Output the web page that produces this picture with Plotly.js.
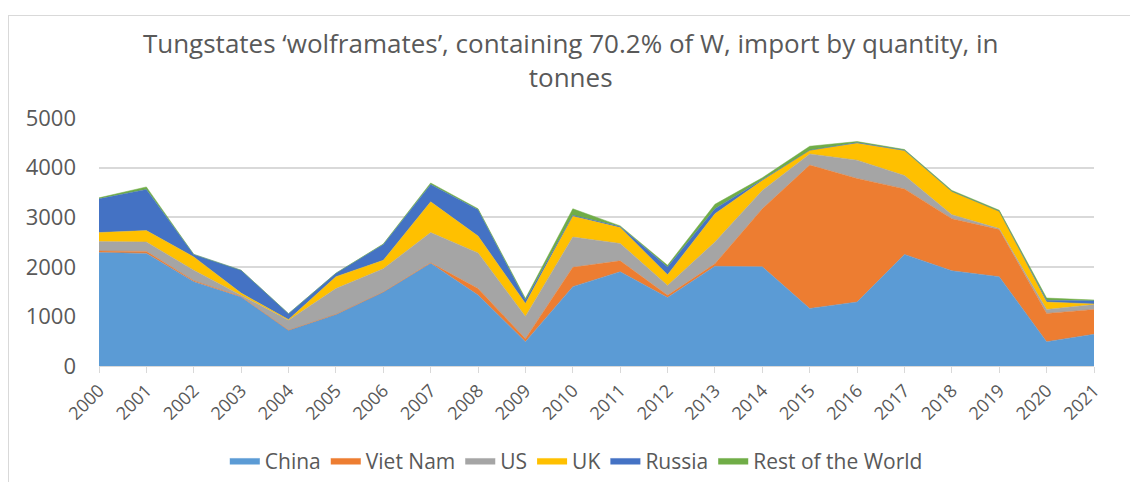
<!DOCTYPE html>
<html>
<head>
<meta charset="utf-8">
<script src="https://cdn.plot.ly/plotly-3.0.1.min.js"></script>
<style>
  html, body { margin: 0; padding: 0; background: #fff; }
  #wrap { position: relative; width: 1130px; height: 482px; overflow: hidden; }
  #frame { position: absolute; left: 8px; top: 15px; width: 1140px; height: 500px; border-left: 1px solid #d9d9d9; border-top: 1px solid #d9d9d9; pointer-events: none; }
  #chart { position: absolute; left: 0; top: 0; width: 1130px; height: 482px; }
</style>
</head>
<body>
<div id="wrap">
  <div id="chart"></div>
  <div id="frame"></div>
</div>
<script>
const years = ['2000','2001','2002','2003','2004','2005','2006','2007','2008','2009','2010','2011','2012','2013','2014','2015','2016','2017','2018','2019','2020','2021'];
const china   = [2290, 2270, 1700, 1390,  720, 1040, 1490, 2070, 1430,  490, 1600, 1900, 1380, 2010, 2000, 1160, 1290, 2250, 1920, 1800,  490,  640];
const vietNam = [  30,   40,   20,   10,    0,    0,    0,   10,  130,   60,  390,  220,   45,   50, 1170, 2890, 2490, 1320, 1050,  950,  570,  500];
const us      = [ 190,  190,  210,   25,  200,  520,  470,  610,  720,  450,  610,  350,  200,  440,  370,  225,  370,  270,   80,   20,   80,  100];
const uk      = [ 180,  230,  270,   45,   15,  240,  170,  620,  340,  260,  420,  320,  215,  570,  200,   75,  340,  500,  470,  350,  150,   10];
const russia  = [ 680,  830,   50,  460,  120,   70,  320,  350,  530,   70,   20,   20,  155,  100,   15,    0,   15,   10,    0,    0,   35,   65];
const rest    = [  20,   50,    0,    0,    0,    0,   10,   30,   20,   30,  130,   15,   35,   90,   40,   80,   20,   15,   20,   20,   45,   15];

const names  = ['China', 'Viet Nam', 'US', 'UK', 'Russia', 'Rest of the World'];
const series = [china, vietNam, us, uk, russia, rest];
const colors = ['#5b9bd5', '#ed7d31', '#a5a5a5', '#ffc000', '#4472c4', '#70ad47'];

const traces = series.map((vals, i) => ({
  type: 'scatter',
  mode: 'lines',
  x: years,
  y: vals,
  name: names[i],
  stackgroup: 'one',
  fillcolor: colors[i],
  line: { color: colors[i], width: 0.5 },
  hoverinfo: 'x+y+name'
}));

const layout = {
  width: 1130,
  height: 482,
  margin: { l: 99, r: 36, t: 118, b: 116, autoexpand: false },
  paper_bgcolor: '#ffffff',
  plot_bgcolor: '#ffffff',
  font: { family: 'Open Sans, sans-serif', color: '#595959' },
  title: {
    text: 'Tungstates ‘wolframates’, containing 70.2% of W, import by quantity, in<br>tonnes',
    font: { family: 'Open Sans, sans-serif', size: 26, color: '#595959' },
    x: 0.505, xanchor: 'center', xref: 'container',
    y: 0.89, yanchor: 'middle', yref: 'container'
  },
  showlegend: true,
  legend: {
    orientation: 'h',
    x: 0.51, xanchor: 'center', xref: 'container',
    y: 0.044, yanchor: 'middle', yref: 'container',
    font: { family: 'Open Sans, sans-serif', size: 21, color: '#595959' },
    traceorder: 'normal',
    itemwidth: 30
  },
  xaxis: {
    type: 'category',
    range: [0, 21],
    tickangle: -45,
    automargin: false,
    tickfont: { size: 18, color: '#595959' },
    ticks: 'outside',
    ticklen: 6,
    tickcolor: '#d9d9d9',
    showline: true,
    linecolor: '#d9d9d9',
    showgrid: false,
    zeroline: false,
    fixedrange: true
  },
  yaxis: {
    range: [0, 5000],
    automargin: false,
    tickvals: [0, 1000, 2000, 3000, 4000, 5000],
    ticktext: ['0', '1000', '2000', '3000', '4000', '5000'],
    tickfont: { size: 22, color: '#595959' },
    ticks: '',
    ticklabelstandoff: 22,
    showgrid: true,
    gridcolor: '#d9d9d9',
    gridwidth: 1.5,
    zeroline: false,
    showline: false,
    fixedrange: true
  }
};

Plotly.newPlot('chart', traces, layout, { displayModeBar: false });
</script>
</body>
</html>
